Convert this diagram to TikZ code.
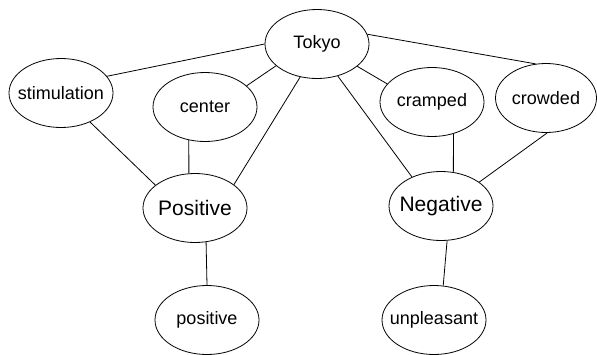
\documentclass[tikz,border=0pt]{standalone}
\usepackage{fontspec}
\setmainfont{Liberation Sans}
\usepackage{tikz}
\usetikzlibrary{shapes.geometric}

\newcommand{\word}[1]{\makebox[0pt]{#1}}

\begin{document}
\begin{tikzpicture}[-,x=1pt,y=-1pt,line width=0.8pt]
                \tikzset{concept/.style={ellipse, draw, inner sep=0pt, minimum width=104pt, minimum height=69pt, font=\fontsize{18}{20}\selectfont}}
                \tikzset{pole/.style={concept, font=\fontsize{21}{24}\selectfont}}
                \useasboundingbox (0,0) rectangle (597,354);
                \node[concept] (Tokyo) at (317,44) {\word{Tokyo}};
                \node[concept] (stim) at (61,93) {\word{stimulation}};
                \node[concept] (center) at (205,107) {\word{center}};
                \node[concept] (cramped) at (432,102) {\word{cramped}};
                \node[concept, minimum width=101pt] (crowded) at (546,98) {\word{crowded}};
                \node[pole] (Pos) at (195,208) {\word{Positive}};
                \node[pole] (Neg) at (441,206) {\word{Negative}};
                \node[concept] (pos) at (207,320) {\word{positive}};
                \node[concept] (unpl) at (434,320) {\word{unpleasant}};
                \path (Tokyo.180) edge              node {} (stim.20);
                \path (Tokyo.208) edge              node {} (center.27);
                \path (Tokyo.243) edge              node {} (Pos.31);
                \path (Tokyo.-57) edge              node {} (Neg.135);
                \path (Tokyo.-29) edge              node {} (cramped.158);
                \path (Tokyo.11) edge              node {} (crowded.107);
                \path (stim.-45) edge              node {} (Pos.150);
                \path (center.-116) edge              node {} (Pos.100);
                \path (cramped.-56) edge              node {} (Neg.70);
                \path (crowded.-88) edge              node {} (Neg.32);
                \path (Pos.-72) edge              node {} (pos.90);
                \path (Neg.-80) edge              node {} (unpl.75);
            \end{tikzpicture}
\end{document}
